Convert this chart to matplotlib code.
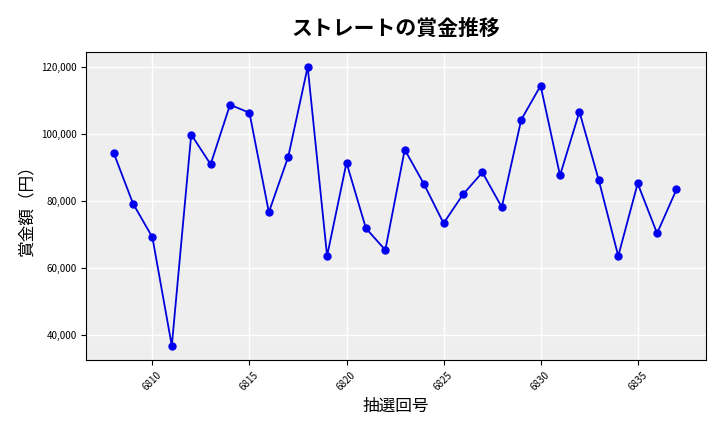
import matplotlib
matplotlib.use("Agg")
import matplotlib.pyplot as plt
from matplotlib.ticker import FuncFormatter

plt.rcParams['font.family'] = ['Noto Sans CJK JP', 'DejaVu Sans']

draws = list(range(6808, 6838))
prizes = [94400, 79200, 69100, 36700, 99800, 90900, 108700, 106300, 76600, 93200,
          120000, 63500, 91400, 71800, 65300, 95300, 84900, 73300, 81900, 88500,
          78100, 104200, 114400, 87600, 106600, 86100, 63500, 85200, 70300, 83400]

fig = plt.figure(figsize=(7.2, 4.32), dpi=100)
ax = fig.add_axes([0.12, 0.167, 0.86, 0.713])
ax.set_facecolor('#eeeeee')
ax.grid(True, color='white', linewidth=1)
ax.set_axisbelow(True)
ax.plot(draws, prizes, color='#0000dd', marker='o', markersize=5, linewidth=1.3,
        markerfacecolor='#0000ee', markeredgecolor='#0000ee')
ax.set_ylim(32500, 124500)
ax.set_xlim(6806.6, 6838.5)
ax.set_xticks([6810, 6815, 6820, 6825, 6830, 6835])
ax.set_yticks([40000, 60000, 80000, 100000, 120000])
ax.yaxis.set_major_formatter(FuncFormatter(lambda v, p: f"{int(v):,}"))
ax.tick_params(axis='x', labelsize=7, rotation=45)
ax.tick_params(axis='y', labelsize=7)
ax.set_title('ストレートの賞金推移', fontsize=15, fontweight='bold', pad=12)
ax.set_xlabel('抽選回号', fontsize=12)
ax.set_ylabel('賞金額（円）', fontsize=12)
fig.savefig('out.png', dpi=100)
